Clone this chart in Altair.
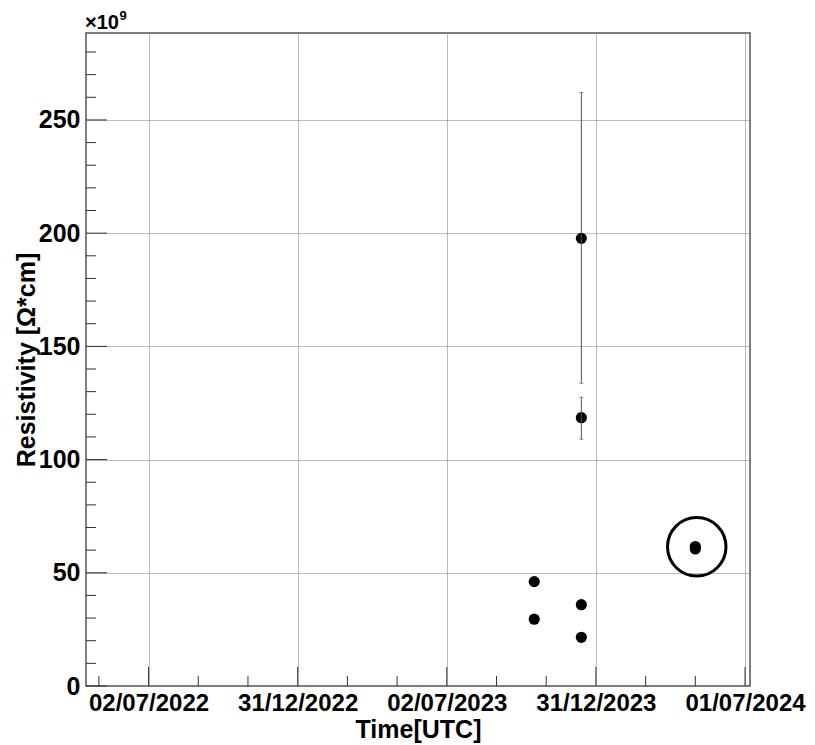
import altair as alt
import pandas as pd

# ---- data ----
point_dates = ["2023-10-17T00:00", "2023-10-17T00:00",
               "2023-12-13T16:00", "2023-12-13T16:00", "2023-12-13T16:00", "2023-12-13T16:00",
               "2024-05-01T04:00", "2024-05-01T04:00"]
point_values = [46.1, 29.5, 197.7, 118.5, 35.9, 21.5, 61.6, 60.5]

err_dates = ["2023-12-13T16:00", "2023-12-13T16:00"]
err_low = [133.7, 109.0]
err_high = [262.1, 127.5]

circle_dates = ["2024-05-02T22:00"]
circle_values = [61.5]

x_major_ticks = ["2022-07-02T00:00", "2022-12-31T12:00", "2023-07-02T00:00",
                 "2023-12-31T12:00", "2024-07-01T00:00"]
x_minor_ticks = ["2022-05-02T04:00", "2022-08-31T20:00", "2022-10-31T16:00",
                 "2023-03-02T08:00", "2023-05-02T04:00", "2023-08-31T20:00",
                 "2023-10-31T16:00", "2024-03-01T08:00", "2024-05-01T04:00"]
y_major_ticks = [0, 50, 100, 150, 200, 250]
y_minor_ticks = [10, 20, 30, 40, 60, 70, 80, 90, 110, 120, 130, 140, 160, 170, 180, 190,
                 210, 220, 230, 240, 260, 270, 280]

exponent_base = "×10"
exponent_power = "9"

W, H = 664, 653
FONT = "Liberation Sans"

xs = alt.Scale(domain=[alt.DateTime(year=2022, month=4, date=16, hours=10),
                       alt.DateTime(year=2024, month=7, date=7, hours=2)], nice=False)
ys = alt.Scale(domain=[0, 288.4], nice=False, zero=False)

major_dt = [alt.DateTime(year=2022, month=7, date=2), alt.DateTime(year=2022, month=12, date=31, hours=12),
            alt.DateTime(year=2023, month=7, date=2), alt.DateTime(year=2023, month=12, date=31, hours=12),
            alt.DateTime(year=2024, month=7, date=1)]

pts = pd.DataFrame({"d": point_dates, "v": point_values})
errs = pd.DataFrame({"d": err_dates, "v": err_low, "v2": err_high})
caps = pd.DataFrame({"d": err_dates + err_dates, "v": err_low + err_high})
circ = pd.DataFrame({"d": circle_dates, "v": circle_values})

X = alt.X("d:T", scale=xs, axis=alt.Axis(
    values=major_dt, format="%d/%m/%Y", labelPadding=5, labelFlush=False,
    labelOverlap=False, labelFontSize=24, title="Time[UTC]", titleX=W / 2, titleY=51,
    titleAlign="center", titleBaseline="alphabetic"))
Y = alt.Y("v:Q", scale=ys, axis=alt.Axis(
    values=y_major_ticks, labelPadding=6, labelFlush=False, labelOverlap=False,
    title="Resistivity [Ω*cm]", titleAngle=270, titleX=-52, titleY=H / 2,
    titleAlign="center", titleBaseline="alphabetic"))
Xp = alt.X("d:T", scale=xs)
Yp = alt.Y("v:Q", scale=ys)

base_points = alt.Chart(pts).mark_circle(size=125, color="black", opacity=1).encode(x=X, y=Y)

xmaj = alt.Chart(pd.DataFrame({"d": x_major_ticks})).mark_rule(color="#333", strokeWidth=1).encode(
    x=Xp, y=alt.value(H), y2=alt.value(H - 19))
xmin = alt.Chart(pd.DataFrame({"d": x_minor_ticks})).mark_rule(color="#333", strokeWidth=1).encode(
    x=Xp, y=alt.value(H), y2=alt.value(H - 10))
ymaj = alt.Chart(pd.DataFrame({"v": y_major_ticks})).mark_rule(color="#333", strokeWidth=1).encode(
    y=Yp, x=alt.value(0), x2=alt.value(21))
ymin = alt.Chart(pd.DataFrame({"v": y_minor_ticks})).mark_rule(color="#333", strokeWidth=1).encode(
    y=Yp, x=alt.value(0), x2=alt.value(10))

ebar = alt.Chart(errs).mark_rule(color="#555", strokeWidth=1).encode(x=Xp, y=Yp, y2="v2:Q")
ecap = alt.Chart(caps).mark_tick(orient="horizontal", size=4, thickness=1, color="#555").encode(x=Xp, y=Yp)

ring = alt.Chart(circ).mark_point(shape="circle", size=3421, filled=False, color="black",
                                  strokeWidth=3, opacity=1).encode(x=Xp, y=Yp)

exp1 = alt.Chart(pd.DataFrame({"t": [exponent_base]})).mark_text(
    align="left", baseline="alphabetic", font=FONT, fontSize=20, fontWeight="bold",
    color="black").encode(text="t:N", x=alt.value(-1), y=alt.value(-4))
exp2 = alt.Chart(pd.DataFrame({"t": [exponent_power]})).mark_text(
    align="left", baseline="alphabetic", font=FONT, fontSize=13, fontWeight="bold",
    color="black").encode(text="t:N", x=alt.value(33.5), y=alt.value(-13))

chart = alt.layer(base_points, xmaj, xmin, ymaj, ymin, ebar, ecap, ring, exp1, exp2).properties(
    width=W, height=H, autosize="none",
    padding={"left": 78, "top": 25, "right": 57, "bottom": 58},
).configure_view(stroke="#555", strokeWidth=1.5).configure_axis(
    labelFont=FONT, labelFontWeight="bold", labelFontSize=25, labelColor="black",
    titleFont=FONT, titleFontWeight="bold", titleFontSize=25, titleColor="black",
    grid=True, gridDash=[1, 1], gridColor="#777", gridWidth=1,
    domain=False, ticks=False,
)

chart.save("out.html", embed_options={"renderer": "svg", "actions": False})
